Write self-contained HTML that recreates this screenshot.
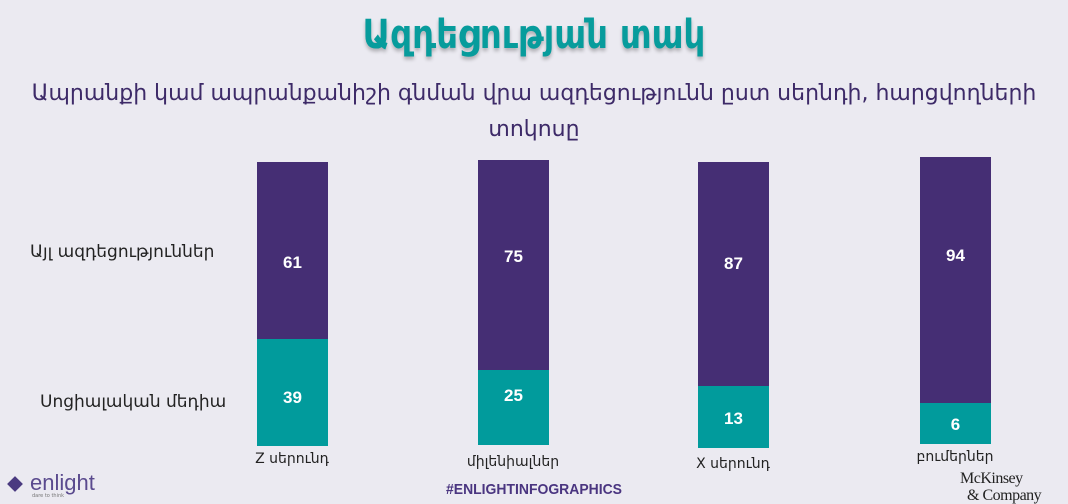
<!DOCTYPE html>
<html><head><meta charset="utf-8"><style>
body{margin:0;width:1068px;height:504px;background:#ebeaf1;position:relative;overflow:hidden;font-family:"DejaVu Sans","Liberation Sans",sans-serif}
.a{position:absolute}
.t{left:0;width:1068px;text-align:center}
.bar{position:absolute;width:71px}
.p{background:#452e74}.g{background:#019b9c}
.n{position:absolute;width:71px;text-align:center;color:#fff;font-weight:bold;font-size:17px;font-family:"Liberation Sans",sans-serif}
.lab{position:absolute;width:160px;text-align:center;font-size:14px;color:#222}
</style></head><body>
<div class="a t" style="top:12px;font-size:40px;font-weight:bold;color:#079c9c;text-shadow:0 3px 4px rgba(0,0,0,.25);transform:scaleX(0.85)">Ազդեցության տակ</div>
<div class="a t" style="top:76px;font-size:22px;color:#3d2a68;line-height:36px;transform:scaleX(1.0)">Ապրանքի կամ ապրանքանիշի գնման վրա ազդեցությունն ըստ սերնդի, հարցվողների<br>տոկոսը</div>
<div class="a" style="left:30px;top:242px;font-size:17px;color:#222">Այլ ազդեցություններ</div>
<div class="a" style="left:40px;top:392px;font-size:17px;color:#222">Սոցիալական մեդիա</div>

<div class="bar p" style="left:257px;top:162px;height:177px"></div><div class="bar g" style="left:257px;top:339px;height:107px"></div>
<div class="n" style="left:257px;top:253px">61</div><div class="n" style="left:257px;top:388px">39</div>
<div class="bar p" style="left:478px;top:160px;height:210px"></div><div class="bar g" style="left:478px;top:370px;height:75px"></div>
<div class="n" style="left:478px;top:247px">75</div><div class="n" style="left:478px;top:386px">25</div>
<div class="bar p" style="left:698px;top:162px;height:224px"></div><div class="bar g" style="left:698px;top:386px;height:62px"></div>
<div class="n" style="left:698px;top:254px">87</div><div class="n" style="left:698px;top:409px">13</div>
<div class="bar p" style="left:920px;top:157px;height:246px"></div><div class="bar g" style="left:920px;top:403px;height:41px"></div>
<div class="n" style="left:920px;top:246px">94</div><div class="n" style="left:920px;top:415px">6</div>

<div class="lab" style="left:212px;top:451px">Z սերունդ</div>
<div class="lab" style="left:433px;top:454px">միլենիալներ</div>
<div class="lab" style="left:653px;top:456px">X սերունդ</div>
<div class="lab" style="left:875px;top:449px">բումերներ</div>

<div class="a" style="left:8px;top:477px;width:14px;height:14px;background:#4a3a80;transform:rotate(45deg) scale(.8)"></div>
<div class="a" style="left:30px;top:470px;font-size:22px;color:#5a4a8e;font-family:'Liberation Sans',sans-serif">enlight</div>
<div class="a" style="left:32px;top:493px;font-size:5px;color:#777">dare to think</div>
<div class="a t" style="top:481px;font-size:15px;font-weight:bold;color:#4a3580;font-family:'Liberation Sans',sans-serif;transform:scaleX(0.93)">#ENLIGHTINFOGRAPHICS</div>
<div class="a" style="left:960px;top:470px;font-size:16px;color:#222;font-family:'Liberation Serif',serif;line-height:17px;letter-spacing:-0.5px">McKinsey<br>&nbsp;&nbsp;&amp; Company</div>
</body></html>
